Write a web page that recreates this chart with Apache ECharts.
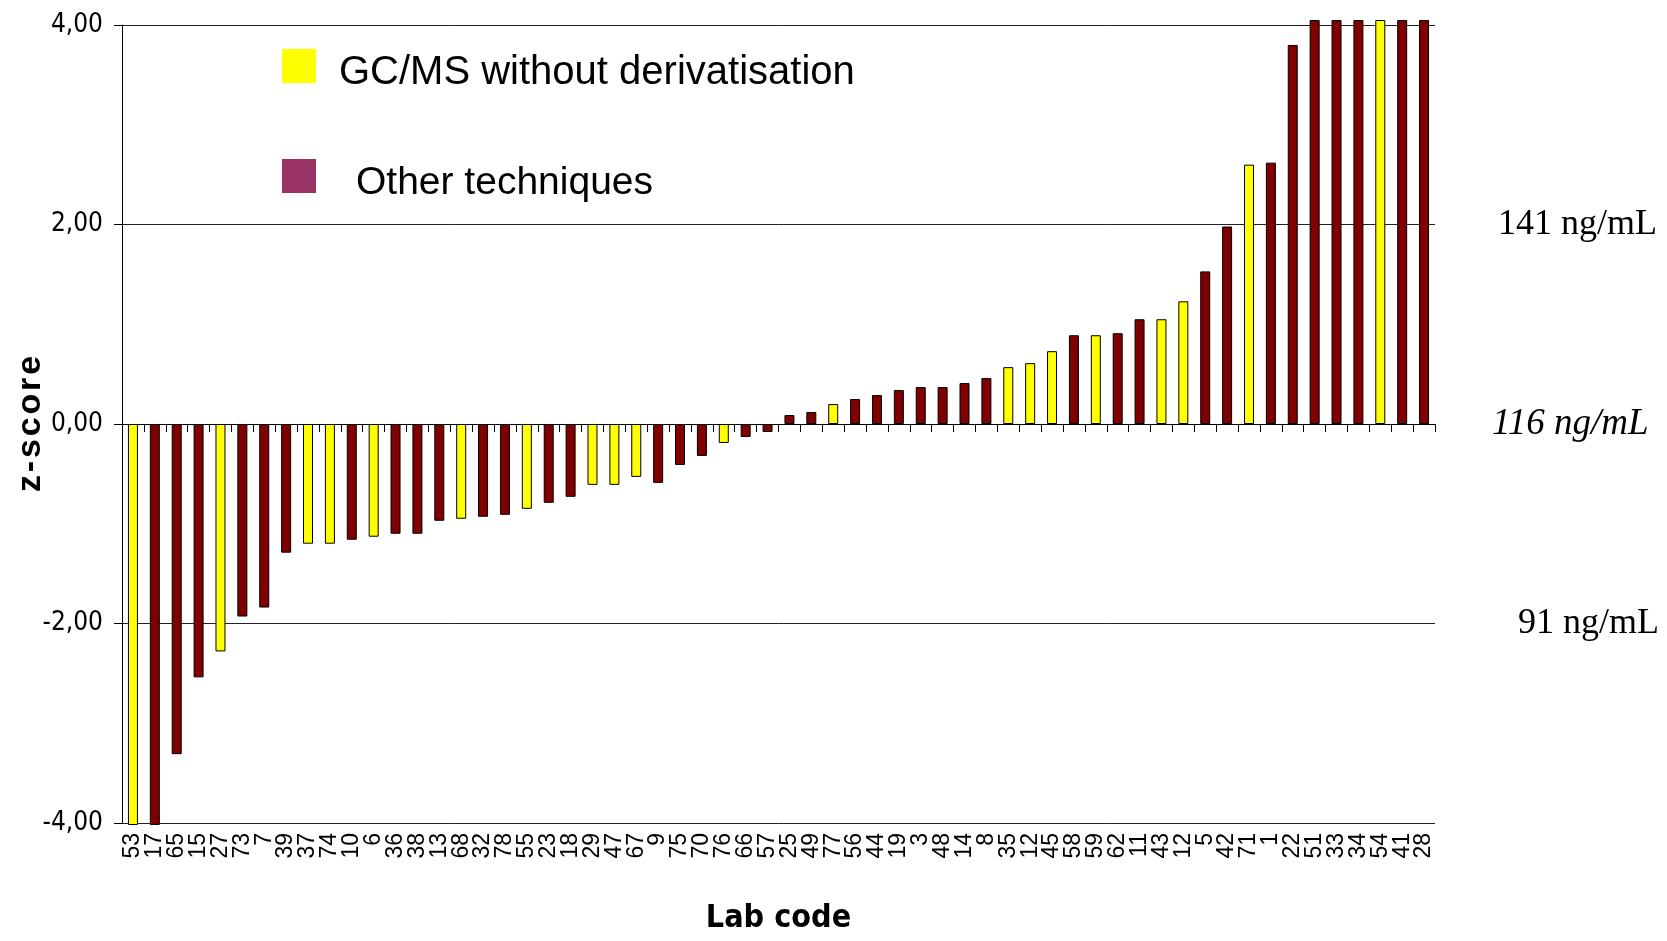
<!DOCTYPE html>
<html>
<head>
<meta charset="utf-8">
<script src="https://cdn.jsdelivr.net/npm/echarts@6/dist/echarts.min.js"></script>
<style>
html,body{margin:0;padding:0;background:#fff;}
#chart{width:1667px;height:941px;}
</style>
</head>
<body>
<div id="chart"></div>
<script>
// Lab codes (x categories), in plotted order
const labCodes = ['53','17','65','15','27','73','7','39','37','74',
  '10','6','36','38','13','68','32','78','55','23',
  '18','29','47','67','9','75','70','76','66','57',
  '25','49','77','56','44','19','3','48','14','8',
  '35','12','45','58','59','62','11','43','12','5',
  '42','71','1','22','51','33','34','54','41','28'];
// z-scores (bars beyond +/-4 are cut off at the axis limits)
const zScores = [-4.02,-4.02,-3.31,-2.54,-2.28,-1.93,-1.84,-1.29,-1.20,-1.20,
  -1.16,-1.13,-1.10,-1.10,-0.97,-0.95,-0.93,-0.91,-0.85,-0.79,
  -0.73,-0.61,-0.61,-0.53,-0.59,-0.41,-0.32,-0.19,-0.13,-0.08,
  0.09,0.12,0.20,0.25,0.29,0.34,0.37,0.37,0.41,0.46,
  0.57,0.61,0.73,0.89,0.89,0.91,1.05,1.05,1.23,1.53,
  1.98,2.60,2.62,3.80,4.05,4.05,4.05,4.05,4.05,4.05];
// technique: G = GC/MS without derivatisation, O = other techniques
const technique = ['G','O','O','O','G','O','O','O','G','G',
  'O','G','O','O','O','G','O','O','G','O',
  'O','G','G','G','O','O','O','G','O','O',
  'O','O','G','O','O','O','O','O','O','O',
  'G','G','G','O','G','O','O','G','G','O',
  'O','G','O','O','O','O','O','G','O','O'];
const refLevels = [
  {z: 2, text: '141 ng/mL', italic: false, dist: 63, size: 36},
  {z: 0, text: '116 ng/mL', italic: true, dist: 57, size: 37},
  {z: -2, text: '91 ng/mL', italic: false, dist: 83, size: 36}
];
const seriesNames = ['GC/MS without derivatisation', 'Other techniques'];

const gcmsData = zScores.map((v, i) => technique[i] === 'G' ? v : null);
const otherData = zScores.map((v, i) => technique[i] === 'O' ? v : null);

const sansNarrow = "'Liberation Sans Narrow','DejaVu Sans Condensed','Liberation Sans',Arial,sans-serif";
const sans = "'Liberation Sans',Arial,sans-serif";

const chart = echarts.init(document.getElementById('chart'), null, {renderer: 'canvas'});
chart.setOption({
  animation: false,
  backgroundColor: '#fff',
  grid: {left: 122, top: 25, width: 1313, height: 798, containLabel: false, outerBoundsMode: 'none'},
  legend: [
    {
      data: [{name: seriesNames[0], itemStyle: {color: '#FFFF00', borderWidth: 0}}],
      icon: 'rect',
      left: 277, top: 44, itemWidth: 34, itemHeight: 34, selectedMode: false,
      formatter: '{t|{name}}',
      textStyle: {fontSize: 40, color: '#000', fontFamily: sans,
        rich: {t: {fontSize: 40, color: '#000', fontFamily: sans, padding: [13,0,0,18]}}}
    },
    {
      data: [{name: seriesNames[1], itemStyle: {color: '#993366', borderWidth: 0}}],
      icon: 'rect',
      left: 277, top: 154, itemWidth: 34, itemHeight: 34, selectedMode: false,
      formatter: '{t|{name}}',
      textStyle: {fontSize: 39, color: '#000', fontFamily: sans,
        rich: {t: {fontSize: 39, color: '#000', fontFamily: sans, padding: [14,0,0,35]}}}
    }
  ],
  xAxis: [
    {
      type: 'category', data: labCodes, boundaryGap: true,
      axisLine: {onZero: true, lineStyle: {color: '#000', width: 1}},
      axisTick: {show: true, length: 8, lineStyle: {color: '#000'}},
      axisLabel: {show: false},
      splitLine: {show: false}
    },
    {
      type: 'category', data: labCodes, position: 'bottom', boundaryGap: true,
      axisLine: {show: false, onZero: false},
      axisTick: {show: false},
      axisLabel: {show: true, interval: 0, rotate: 90, margin: 10, fontSize: 23, color: '#000', fontFamily: sans},
      name: 'Lab code', nameLocation: 'middle', nameGap: 80, nameMoveOverlap: false,
      nameTextStyle: {fontSize: 32, fontWeight: 'bold', color: '#000', fontFamily: sansNarrow}
    }
  ],
  yAxis: {
    type: 'value', min: -4, max: 4, interval: 2,
    axisLine: {show: true, lineStyle: {color: '#000'}},
    axisTick: {show: true, length: 8, lineStyle: {color: '#000'}},
    axisLabel: {margin: 19, fontSize: 26, color: '#000', fontFamily: sansNarrow,
      formatter: v => v.toFixed(2).replace('.', ',')},
    splitLine: {show: true, lineStyle: {color: '#222', width: 1}},
    name: 'z\u200a-\u200as\u200ac\u200ao\u200ar\u200ae', nameLocation: 'middle', nameRotate: 90, nameGap: 74, nameMoveOverlap: false,
    nameTextStyle: {fontSize: 34, fontWeight: 'bold', color: '#000', fontFamily: sans}
  },
  series: [
    {
      name: seriesNames[0], type: 'bar', data: gcmsData, barWidth: 10, barGap: '-100%', clip: false,
      itemStyle: {color: '#FFFF00', borderColor: '#000', borderWidth: 1},
      markLine: {
        silent: true, symbol: 'none', animation: false,
        lineStyle: {color: 'rgba(0,0,0,0)', width: 0},
        label: {position: 'end', color: '#000', fontFamily: "'Liberation Serif','Times New Roman',serif"},
        data: refLevels.map(r => ({yAxis: r.z, label: {formatter: r.text, distance: r.dist, fontSize: r.size, fontStyle: r.italic ? 'italic' : 'normal'}}))
      }
    },
    {
      name: seriesNames[1], type: 'bar', data: otherData, barWidth: 10, barGap: '-100%', clip: false,
      itemStyle: {color: '#800000', borderColor: '#000', borderWidth: 1}
    }
  ]
});
</script>
</body>
</html>
